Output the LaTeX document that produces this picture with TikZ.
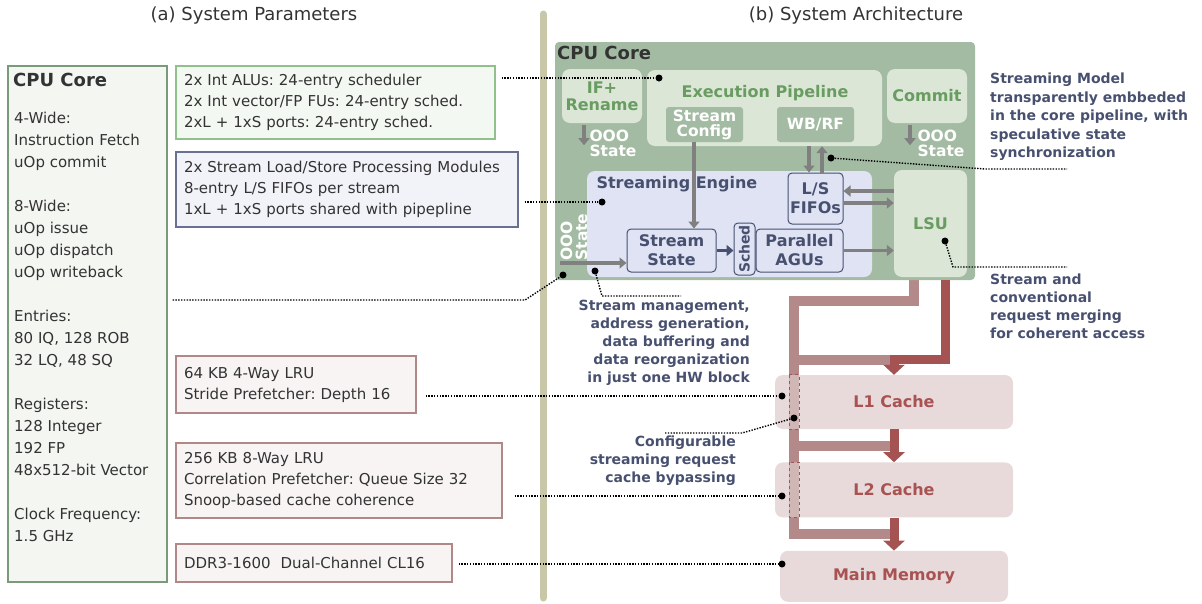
\documentclass[tikz,border=0pt]{standalone}
\usepackage{fontspec}
\usepackage{graphicx}
\setmainfont{DejaVu Sans}
\frenchspacing
\usetikzlibrary{arrows.meta,backgrounds,calc,positioning}

\definecolor{txtdark}{RGB}{51,51,51}
\definecolor{sage}{RGB}{163,187,162}
\definecolor{sagelight}{RGB}{219,230,215}
\definecolor{sagetext}{RGB}{104,156,96}
\definecolor{sefill}{RGB}{223,227,243}
\definecolor{sedark}{RGB}{72,80,112}
\definecolor{arrowgray}{RGB}{128,128,128}
\definecolor{cachefill}{RGB}{222,202,202}
\definecolor{cachetext}{RGB}{168,82,82}
\definecolor{streamline}{RGB}{179,137,137}
\definecolor{convline}{RGB}{165,82,82}
\definecolor{sepcolor}{RGB}{200,200,168}
\definecolor{coreborder}{RGB}{122,154,122}
\definecolor{corefill}{RGB}{244,246,242}
\definecolor{greenborder}{RGB}{144,192,140}
\definecolor{greenfill}{RGB}{244,248,242}
\definecolor{blueborder}{RGB}{106,112,144}
\definecolor{bluefill}{RGB}{242,243,249}
\definecolor{redborder}{RGB}{176,136,136}
\definecolor{redfill}{RGB}{248,244,244}

\tikzset{
>={Triangle[width=11pt,length=7pt]}, % arrow head of the gray arrows
heading/.style={font=\fontsize{18}{22}\selectfont, text=txtdark}, % captions and box titles
ptext/.style={font=\fontsize{15}{21}\selectfont, text=txtdark, align=left}, % parameter text
param/.style={ptext, draw, line width=1.2pt, inner xsep=8pt, inner ysep=0pt}, % parameter boxes on the left
block/.style={fill=sagelight, rounded corners=8pt, text=sagetext, font=\bfseries\fontsize{16}{17}\selectfont, align=center, inner sep=1pt},
inblock/.style={fill=sage, rounded corners=3pt, text=white, font=\bfseries\fontsize{15.5}{15}\selectfont, align=center, inner sep=1pt},
seblock/.style={fill=sefill, draw=sedark, line width=1pt, rounded corners=4pt, text=sedark, font=\bfseries\fontsize{16}{19}\selectfont, align=center, inner sep=1pt},
ooo/.style={text=white, font=\bfseries\fontsize{15.5}{15}\selectfont, align=left, inner sep=0pt},
cache/.style={fill=cachefill, fill opacity=0.7, text opacity=1, rounded corners=8pt, text=cachetext, font=\bfseries\fontsize{16}{19}\selectfont},
note/.style={text=sedark, font=\bfseries\fontsize{14}{18}\selectfont, inner sep=0pt},
dot/.style={circle, fill=black, inner sep=0pt, minimum size=7pt},
leader/.style={line width=1.4pt, dash pattern=on 1.4pt off 1.4pt}, % dotted callout lines
garrow/.style={->, draw=arrowgray, line width=3.5pt},
sarrow/.style={->, draw=sedark, line width=3.5pt},
streampath/.style={draw=streamline, line width=10pt}, % streaming requests
convpath/.style={-{Triangle[width=21pt,length=10pt]}, draw=convline, line width=9pt}, % conventional requests
bypass/.style={draw=cachetext, dashed, line width=0.8pt},
}

\begin{document}
\begin{tikzpicture}[x=1pt,y=-1pt]
\useasboundingbox (0,0) rectangle (1202,603);

\node[heading] (ta) at (254,16) {(a) System Parameters};
\node[heading] (tb) at (856,16) {(b) System Architecture};
\draw[sepcolor, line width=7pt, line cap=round] (543,14) -- (543,598);

% (a) parameters
\node[draw=coreborder, fill=corefill, line width=1.2pt, minimum width=159pt, minimum height=516pt] (cpuparam) at (87.5,324) {};
\node[heading, font=\bfseries\fontsize{18}{22}\selectfont, anchor=west, inner sep=0pt] (cpuhead) at (13,80) {CPU Core};
\node[ptext, font=\fontsize{15}{22}\selectfont, anchor=west, inner sep=0pt] (cpulist) at (14,327) {4-Wide:\\Instruction Fetch\\uOp commit\\[22pt]8-Wide:\\uOp issue\\uOp dispatch\\uOp writeback\\[22pt]Entries:\\80 IQ, 128 ROB\\32 LQ, 48 SQ\\[22pt]Registers:\\128 Integer\\192 FP\\48x512-bit Vector\\[22pt]Clock Frequency:\\1.5 GHz};

\node[param, draw=greenborder, fill=greenfill, text width=303pt, minimum height=73pt] (pgreen) at (335.5,102.5) {2x Int ALUs: 24-entry scheduler\\2x Int vector/FP FUs: 24-entry sched.\\2xL + 1xS ports: 24-entry sched.};
\node[param, draw=blueborder, fill=bluefill, text width=326pt, minimum height=75pt] (pblue) at (347,189.5) {2x Stream Load/Store Processing Modules\\8-entry L/S FIFOs per stream\\1xL + 1xS ports shared with pipepline};
\node[param, draw=redborder, fill=redfill, text width=224pt, minimum height=57pt] (pl1) at (296,384.5) {64 KB 4-Way LRU\\Stride Prefetcher: Depth 16};
\node[param, draw=redborder, fill=redfill, text width=310pt, minimum height=75pt] (pl2) at (339,480.5) {256 KB 8-Way LRU\\Correlation Prefetcher: Queue Size 32\\Snoop-based cache coherence};
\node[param, draw=redborder, fill=redfill, text width=260pt, minimum height=38pt] (pmem) at (314,563) {DDR3-1600\ \ Dual-Channel CL16};

% (b) architecture
\node[fill=sage, rounded corners=4pt, minimum width=420pt, minimum height=238pt] (core) at (765,161) {};
\node[heading, font=\bfseries\fontsize{18}{22}\selectfont, anchor=west, inner sep=0pt] (corehead) at (557,53) {CPU Core};
\node[block, minimum width=80pt, minimum height=54pt] (ifren) at (602,96) {IF+\\Rename};
\node[block, minimum width=235pt, minimum height=76pt] (exec) at (764.5,108) {};
\node[block, fill=none] (exechead) at (765,93) {Execution Pipeline};
\node[inblock, minimum width=77pt, minimum height=35pt] (scfg) at (704.5,124.5) {Stream\\Config};
\node[inblock, minimum width=77pt, minimum height=35pt] (wbrf) at (815.5,124.5) {WB/RF};
\node[block, minimum width=80pt, minimum height=54pt] (commit) at (927,96) {Commit};
\node[ooo] (ifooo) at (613,143) {OOO\\State};
\node[ooo] (cmooo) at (941,143) {OOO\\State};
\draw[garrow] ($(ifren.south)+(-18,2)$) -- ++(0,20);
\draw[garrow] ($(commit.south)+(-17,2)$) -- ++(0,20);

\node[fill=sefill, rounded corners=8pt, minimum width=285pt, minimum height=106pt] (se) at (729.5,224) {};
\node[seblock, draw=none, fill=none, anchor=west] (sehead) at (595,184) {Streaming Engine};
\node[seblock, minimum width=55pt, minimum height=51pt] (fifo) at (815.5,198.5) {L/S\\FIFOs};
\node[block, minimum width=73pt, minimum height=107pt] (lsu) at (930.5,223.5) {LSU};
\node[seblock, minimum width=89pt, minimum height=43pt] (sstate) at (671.5,250.5) {Stream\\State};
\node[seblock, font=\bfseries\fontsize{14}{16}\selectfont, minimum width=21pt, minimum height=52pt, inner sep=0pt] (sched) at (744.5,249) {\rotatebox{90}{Sched}};
\node[seblock, minimum width=87pt, minimum height=43pt] (agu) at (799.5,250.5) {Parallel\\AGUs};
\node[ooo, rotate=90] (seooo) at (574,237) {OOO\\State};

\coordinate (cfgout) at ($(scfg.south)+(-10.5,0)$);
\draw[garrow] (cfgout) -- (cfgout |- sstate.north);
\coordinate (oooin) at (560,263);
\draw[garrow] (oooin) -- (oooin -| sstate.west);
\draw[sarrow] (sstate.east) -- (sstate.east -| sched.west);
\draw[garrow] (agu.east) -- (agu.east -| lsu.west);
\draw[garrow] ($(lsu.west)+(0,-32.5)$) -- ($(fifo.east)+(0,-7.5)$);
\draw[garrow] ($(fifo.east)+(0,4.5)$) -- ($(lsu.west)+(0,-20.5)$);
\coordinate (wbdown) at ($(fifo.north)+(-6.5,0)$);
\coordinate (wbup) at ($(fifo.north)+(6.5,0)$);
\draw[garrow] (wbdown |- exec.south) -- (wbdown);
\draw[garrow] (wbup) -- (wbup |- exec.south);

% memory hierarchy
\node[cache, minimum width=238pt, minimum height=54pt] (l1) at (894,402) {L1 Cache};
\node[cache, minimum width=238pt, minimum height=55pt, below=33pt of l1] (l2) {L2 Cache};
\node[cache, minimum width=228pt, minimum height=51pt, below=33pt of l2] (mem) {Main Memory};

\coordinate (lsu-s) at ($(lsu.south |- core.south)+(-16.5,0)$);
\coordinate (lsu-c) at ($(lsu.south |- core.south)+(14.5,0)$);
\coordinate (byp) at (794,301);
\begin{scope}[on background layer]
\draw[streampath] (lsu-s) |- (byp) -- ($(byp |- mem.north)+(0,-17)$) -- ($(mem.north)+(0,-17)$);
\draw[streampath] ($(byp |- l1.north)+(0,-15)$) -- ($(l1.north)+(0,-15)$);
\draw[streampath] ($(byp |- l2.north)+(0,-16)$) -- ($(l2.north)+(0,-16)$);
\end{scope}
\draw[bypass] ($(byp |- l1.north)+(-5,0)$) rectangle ($(byp |- l1.south)+(5,0)$);
\draw[bypass] ($(byp |- l2.north)+(-5,0)$) rectangle ($(byp |- l2.south)+(5,0)$);
\draw[convpath] (lsu-c) |- ($(l1.north)+(0,-15)$) -- (l1.north);
\draw[convpath] (l1.south) -- (l2.north);
\draw[convpath] (l2.south) -- (mem.north);

% callouts
\node[dot] (d-exec) at (659,78) {};
\node[dot] (d-se) at (602,202) {};
\node[dot] (d-core) at (563,275) {};
\node[dot] (d-sm) at (595,271) {};
\node[dot] (d-wb) at (831,158) {};
\node[dot] (d-lsu) at (945,241) {};
\node[dot] (d-l1) at (782,396) {};
\node[dot] (d-byp) at (794,418) {};
\node[dot] (d-l2) at (782,496) {};
\node[dot] (d-mem) at (782,564) {};
\coordinate (e-sm) at (681,296);
\coordinate (e-wb) at (1067,169);
\coordinate (e-lsu) at (1067,267);
\coordinate (e-byp) at (665,433);
\draw[leader] ($(pgreen.east |- d-exec)+(6,0)$) -- (d-exec);
\draw[leader] ($(pblue.east |- d-se)+(6,0)$) -- (d-se);
\draw[leader] ($(cpuparam.east)+(5,-24)$) -- (525,300) -- (d-core);
\draw[leader] (d-sm) -- (602,296) -- (e-sm);
\draw[leader] (d-wb) -- (985,169) -- (e-wb);
\draw[leader] (d-lsu) -- (953,267) -- (e-lsu);
\draw[leader] ($(pl1.east |- d-l1)+(9,0)$) -- (d-l1);
\draw[leader] (d-byp) -- (742,433) -- (e-byp);
\draw[leader] ($(pl2.east |- d-l2)+(12,0)$) -- (d-l2);
\draw[leader] ($(pmem.east |- d-mem)+(6,0)$) -- (d-mem);

\node[note, font=\bfseries\fontsize{14}{18.5}\selectfont, align=left, anchor=west] (n-model) at (990,117) {Streaming Model\\transparently embbeded\\in the core pipeline, with\\speculative state\\synchronization};
\node[note, align=left, anchor=west] (n-merge) at (990,306) {Stream and\\conventional\\request merging\\for coherent access};
\node[note, align=right, anchor=east] (n-sm) at (750,343) {Stream management,\\address generation,\\data buffering and\\data reorganization\\in just one HW block};
\node[note, align=right, anchor=east] (n-byp) at (736,461) {Configurable\\streaming request\\cache bypassing};
\end{tikzpicture}
\end{document}
